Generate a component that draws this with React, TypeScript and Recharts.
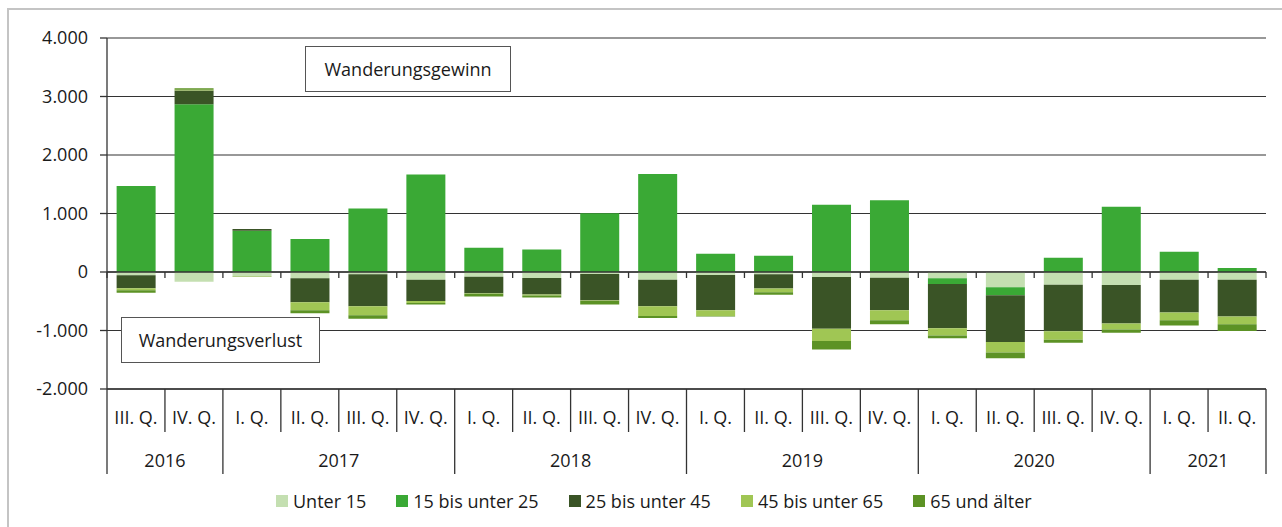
import { Bar, BarChart, CartesianGrid, ReferenceLine, XAxis, YAxis } from "recharts";

const quarterLabels = [
  "III. Q.", "IV. Q.",
  "I. Q.", "II. Q.", "III. Q.", "IV. Q.",
  "I. Q.", "II. Q.", "III. Q.", "IV. Q.",
  "I. Q.", "II. Q.", "III. Q.", "IV. Q.",
  "I. Q.", "II. Q.", "III. Q.", "IV. Q.",
  "I. Q.", "II. Q.",
];
const yearOfQuarter = [
  "2016", "2016",
  "2017", "2017", "2017", "2017",
  "2018", "2018", "2018", "2018",
  "2019", "2019", "2019", "2019",
  "2020", "2020", "2020", "2020",
  "2021", "2021",
];

const unter15 = [-57, -165, -68, -108, -40, -131, -80, -102, -34, -131, -51, -40, -85, -97, -108, -261, -216, -222, -131, -131];
const bis25 = [1472, 2869, 705, 562, 1085, 1665, 415, 386, 1006, 1676, 312, 278, 1148, 1227, -97, -136, 244, 1114, 347, 68];
const bis45 = [-222, 233, 28, -409, -545, -364, -284, -284, -455, -455, -602, -244, -886, -557, -756, -801, -795, -659, -562, -631];
const bis65 = [-34, 15, -10, -136, -153, -34, -8, -17, -6, -165, -97, -62, -210, -170, -125, -176, -148, -102, -131, -131];
const ab65 = [-40, 25, -5, -51, -63, -28, -45, -34, -62, -34, -10, -45, -142, -68, -45, -102, -51, -57, -91, -114];

const yTicks = [-2000, -1000, 0, 1000, 2000, 3000, 4000];

const series = [
  { key: "u15", name: "Unter 15", color: "#c4dfb1" },
  { key: "b25", name: "15 bis unter 25", color: "#3aa935" },
  { key: "b45", name: "25 bis unter 45", color: "#3a5426" },
  { key: "b65", name: "45 bis unter 65", color: "#a0c654" },
  { key: "a65", name: "65 und älter", color: "#5c9225" },
];

const data = quarterLabels.map((q, i) => ({
  id: `${yearOfQuarter[i]} ${q}`,
  u15: unter15[i],
  b25: bis25[i],
  b45: bis45[i],
  b65: bis65[i],
  a65: ab65[i],
}));

const FONT = "'Open Sans', 'Noto Sans', sans-serif";
const TEXT = "#1a1a1a";
const LINE = "#333";
const FS = 18;

const fmt = (v: number) => {
  const s = Math.abs(v).toString().replace(/\B(?=(\d{3})+(?!\d))/g, ".");
  return v < 0 ? `-${s}` : s;
};

function QuarterTick(props: any) {
  const { x, y, payload } = props;
  const i = payload.index;
  const half = payload.offset ?? 29;
  const year = yearOfQuarter[i];
  const first = i === 0 || yearOfQuarter[i - 1] !== year;
  const last = i === quarterLabels.length - 1;
  const count = yearOfQuarter.filter((v) => v === year).length;
  const left = x - half;
  const txt = { fontFamily: FONT, fontSize: FS, fill: TEXT } as any;
  return (
    <g>
      <line x1={left} y1={y} x2={left} y2={y + (first ? 85 : 43)} stroke={LINE} strokeWidth={1.3} />
      {last && <line x1={x + half} y1={y} x2={x + half} y2={y + 85} stroke={LINE} strokeWidth={1.3} />}
      <text x={x} y={y + 35} textAnchor="middle" style={txt}>
        {quarterLabels[i]}
      </text>
      {first && (
        <text x={left + count * half} y={y + 78} textAnchor="middle" style={txt}>
          {year}
        </text>
      )}
    </g>
  );
}

function ZeroAxis(props: any) {
  const { x1, y1, x2 } = props;
  const n = quarterLabels.length;
  const step = (x2 - x1) / n;
  return (
    <g>
      <line x1={x1} y1={y1} x2={x2} y2={y1} stroke={LINE} strokeWidth={1.5} />
      {Array.from({ length: n + 1 }, (_, k) => (
        <line key={k} x1={x1 + k * step} y1={y1} x2={x1 + k * step} y2={y1 + 6} stroke={LINE} strokeWidth={1.3} />
      ))}
    </g>
  );
}

const boxStyle: React.CSSProperties = {
  position: "absolute",
  border: "1.5px solid #555",
  background: "#fff",
  display: "flex",
  alignItems: "center",
  justifyContent: "center",
  fontFamily: FONT,
  fontSize: FS,
  color: TEXT,
  boxSizing: "border-box",
};

export default function App() {
  return (
    <div style={{ position: "relative", width: 1282, height: 527, overflow: "hidden", background: "#fff" }}>
      <style>{`body{margin:0}`}</style>
      <div
        style={{
          position: "absolute",
          left: 7,
          top: 8,
          width: 1300,
          height: 540,
          border: "2px solid #c4c4c4",
        }}
      />
      <div style={{ position: "absolute", left: 0, top: 0 }}>
        <BarChart
          width={1282}
          height={527}
          data={data}
          stackOffset="sign"
          barCategoryGap="16.6%"
          margin={{ top: 38, right: 16, bottom: 0, left: 0 }}
        >
          <CartesianGrid vertical={false} stroke={LINE} strokeWidth={1.2} />
          <XAxis
            dataKey="id"
            height={138}
            interval={0}
            tickLine={false}
            tickSize={0}
            tickMargin={0}
            axisLine={{ stroke: LINE, strokeWidth: 1.3 }}
            tick={<QuarterTick />}
          />
          <YAxis
            domain={[-2000, 4000]}
            ticks={yTicks}
            width={107}
            tickSize={7}
            tickMargin={12}
            tickFormatter={fmt}
            axisLine={{ stroke: LINE, strokeWidth: 1.3 }}
            tickLine={{ stroke: LINE, strokeWidth: 1.3 }}
            tick={{ fill: TEXT, fontSize: FS, fontFamily: FONT }}
          />
          {series.map((s) => (
            <Bar key={s.key} dataKey={s.key} name={s.name} stackId="a" fill={s.color} isAnimationActive={false} />
          ))}
          <ReferenceLine y={0} shape={<ZeroAxis />} />
        </BarChart>
      </div>
      <div style={{ ...boxStyle, left: 305, top: 46, width: 206, height: 46 }}>Wanderungsgewinn</div>
      <div style={{ ...boxStyle, left: 121, top: 317, width: 199, height: 46 }}>Wanderungsverlust</div>
      <div
        style={{
          position: "absolute",
          left: 276,
          top: 489,
          display: "flex",
          alignItems: "center",
          gap: 30,
          fontFamily: FONT,
          fontSize: FS,
          color: TEXT,
        }}
      >
        {series.map((s) => (
          <div key={s.key} style={{ display: "flex", alignItems: "center", gap: 5 }}>
            <span style={{ width: 12, height: 12, background: s.color, display: "inline-block" }} />
            <span>{s.name}</span>
          </div>
        ))}
      </div>
    </div>
  );
}
